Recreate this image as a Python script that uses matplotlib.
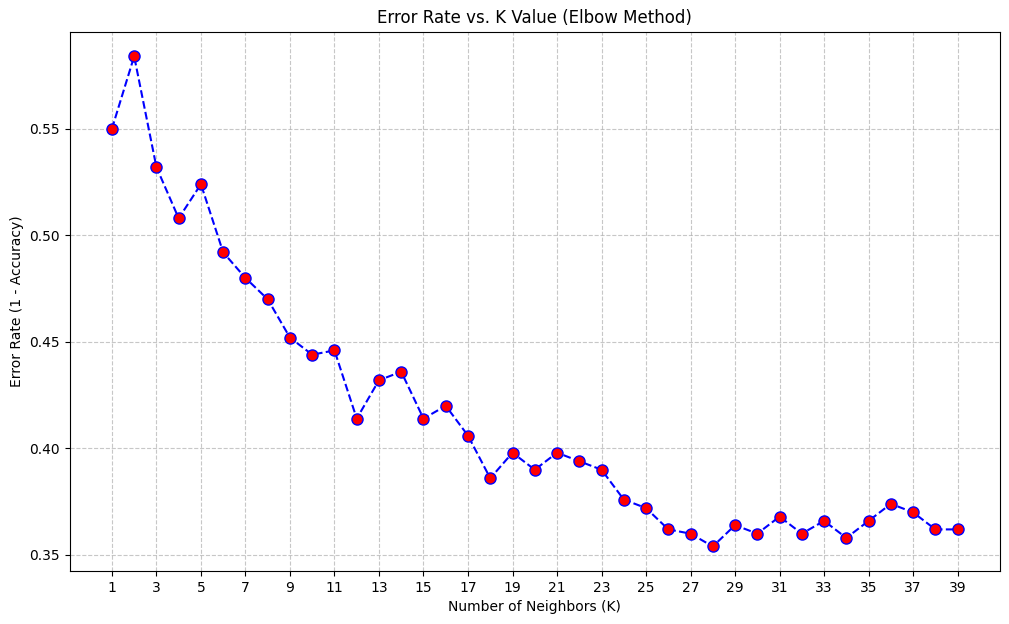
import matplotlib
matplotlib.use("Agg")
import matplotlib.pyplot as plt
import numpy as np

k_values = list(range(1, 40))
error_rates = [0.550, 0.584, 0.532, 0.508, 0.524, 0.492, 0.480, 0.470, 0.452, 0.444,
               0.446, 0.414, 0.432, 0.436, 0.414, 0.420, 0.406, 0.386, 0.398, 0.390,
               0.398, 0.394, 0.390, 0.376, 0.372, 0.362, 0.360, 0.354, 0.364, 0.360,
               0.368, 0.360, 0.366, 0.358, 0.366, 0.374, 0.370, 0.362, 0.362]

fig = plt.figure(figsize=(10.09, 6.24), dpi=100)
ax = fig.add_axes([0.069, 0.085, 0.922, 0.864])
ax.plot(k_values, error_rates, color='blue', linestyle='dashed', marker='o',
        markerfacecolor='red', markersize=8)
ax.set_title("Error Rate vs. K Value (Elbow Method)")
ax.set_xlabel("Number of Neighbors (K)")
ax.set_ylabel("Error Rate (1 - Accuracy)")
ax.set_xticks(range(1, 40, 2))
ax.grid(True, linestyle='--', alpha=0.7)

fig.savefig("out.png", dpi=100)
